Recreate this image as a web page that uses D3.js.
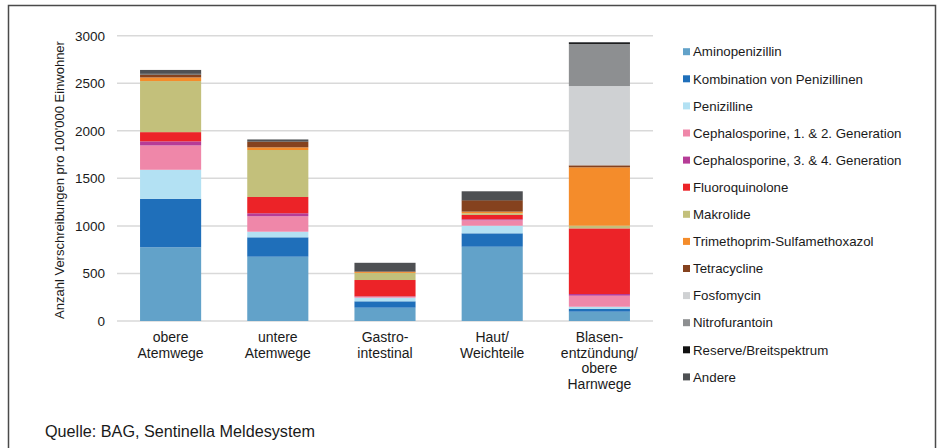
<!DOCTYPE html>
<html>
<head>
<meta charset="utf-8">
<script src="https://cdn.jsdelivr.net/npm/d3@7"></script>
<style>
  body { margin: 0; background: #fff; }
  svg text { font-family: "Liberation Sans", Arial, sans-serif; fill: #1a1a1a; }
</style>
</head>
<body>
<div id="chart"></div>
<script>
// categories (x labels, line breaks with \n)
const categories = [
  "obere\nAtemwege",
  "untere\nAtemwege",
  "Gastro-\nintestinal",
  "Haut/\nWeichteile",
  "Blasen-\nentzündung/\nobere\nHarnwege"
];

const seriesNames = [
  "Aminopenizillin",
  "Kombination von Penizillinen",
  "Penizilline",
  "Cephalosporine, 1. & 2. Generation",
  "Cephalosporine, 3. & 4. Generation",
  "Fluoroquinolone",
  "Makrolide",
  "Trimethoprim-Sulfamethoxazol",
  "Tetracycline",
  "Fosfomycin",
  "Nitrofurantoin",
  "Reserve/Breitspektrum",
  "Andere"
];

const seriesColors = [
  "#62a2c9", "#1f6fba", "#b3e1f3", "#ef87a9", "#b63c97", "#ec2328",
  "#c3c07b", "#f48c2b", "#85421e", "#cfd1d3", "#8d8f91", "#111111", "#4e5053"
];

// values per series, one per category
const aminopenizillin = [775, 676, 140, 781, 98];
const kombination     = [510, 204, 67, 141, 31];
const penizilline     = [305, 59, 38, 80, 21];
const ceph12          = [256, 162, 10, 57, 116];
const ceph34          = [43, 32, 4, 10, 18];
const fluoro          = [97, 171, 172, 46, 690];
const makrolide       = [537, 494, 75, 18, 28];
const trimeth         = [38, 28, 10, 17, 614];
const tetra           = [28, 59, 5, 119, 21];
const fosfo           = [2, 2, 0, 0, 834];
const nitro           = [2, 1, 0, 0, 442];
const reserve         = [10, 5, 2, 3, 10];
const andere          = [37, 16, 89, 92, 10];

const seriesValues = [aminopenizillin, kombination, penizilline, ceph12, ceph34, fluoro,
  makrolide, trimeth, tetra, fosfo, nitro, reserve, andere];

const yTicks = [0, 500, 1000, 1500, 2000, 2500, 3000];
const yTitle = "Anzahl Verschreibungen pro 100'000 Einwohner";
const source = "Quelle: BAG, Sentinella Meldesystem";

const W = 940, H = 448;
const margin = {top: 36, left: 117, right: 287, bottom: 127};

const svg = d3.select("#chart").append("svg")
  .attr("width", W).attr("height", H);

// frame
svg.append("path")
  .attr("d", `M8.5,${H} V5.5 H935.5 V${H}`)
  .attr("fill", "none").attr("stroke", "#4a4a4a").attr("stroke-width", 1.5);

const x = d3.scaleBand()
  .domain(categories)
  .range([margin.left, W - margin.right])
  .paddingInner(0.43).paddingOuter(0.215);

const y = d3.scaleLinear()
  .domain([0, 3000])
  .range([321, 35.7]);

// gridlines
svg.append("g").selectAll("line").data(yTicks).join("line")
  .attr("x1", margin.left).attr("x2", W - margin.right)
  .attr("y1", d => y(d)).attr("y2", d => y(d))
  .attr("stroke", "#d9d9d9").attr("stroke-width", 1.5);

// y axis labels
const yAxis = svg.append("g")
  .attr("transform", `translate(${margin.left},0)`)
  .call(d3.axisLeft(y).tickValues(yTicks).tickFormat(d3.format("d")).tickSize(0).tickPadding(12));
yAxis.select(".domain").remove();
yAxis.selectAll("text").attr("font-size", 13.5).attr("fill", "#1a1a1a")
  .style("font-family", "'Liberation Sans', Arial, sans-serif");

svg.append("text")
  .attr("transform", `translate(64,180) rotate(-90)`)
  .attr("text-anchor", "middle")
  .attr("font-size", 13)
  .text(yTitle);

// stacked data
const table = categories.map((c, i) => {
  const row = {cat: c};
  seriesNames.forEach((s, j) => row[s] = seriesValues[j][i]);
  return row;
});
const stacked = d3.stack().keys(seriesNames)(table);

svg.append("g").selectAll("g").data(stacked).join("g")
  .attr("fill", (d, i) => seriesColors[i])
  .selectAll("rect").data(d => d).join("rect")
  .attr("x", d => x(d.data.cat))
  .attr("width", x.bandwidth())
  .attr("y", d => y(d[1]))
  .attr("height", d => Math.max(0, y(d[0]) - y(d[1])));

// x labels
const xl = svg.append("g").selectAll("text").data(categories).join("text")
  .attr("x", d => x(d) + x.bandwidth() / 2)
  .attr("y", 342)
  .attr("text-anchor", "middle")
  .attr("font-size", 14);
xl.selectAll("tspan").data(d => d.split("\n")).join("tspan")
  .attr("x", function() { return d3.select(this.parentNode).attr("x"); })
  .attr("dy", (d, i) => i === 0 ? 0 : 15.5)
  .text(d => d);

// legend
const legend = svg.append("g").selectAll("g").data(seriesNames).join("g")
  .attr("transform", (d, i) => `translate(683,${51.7 + i * 27.1})`);
legend.append("rect")
  .attr("x", 0).attr("y", -3.5).attr("width", 7).attr("height", 7)
  .attr("fill", (d, i) => seriesColors[i]);
legend.append("text")
  .attr("x", 10).attr("y", 4.7)
  .attr("font-size", 13.3)
  .text(d => d);

// source
svg.append("text")
  .attr("x", 45).attr("y", 437)
  .attr("font-size", 16.2)
  .text(source);
</script>
</body>
</html>
